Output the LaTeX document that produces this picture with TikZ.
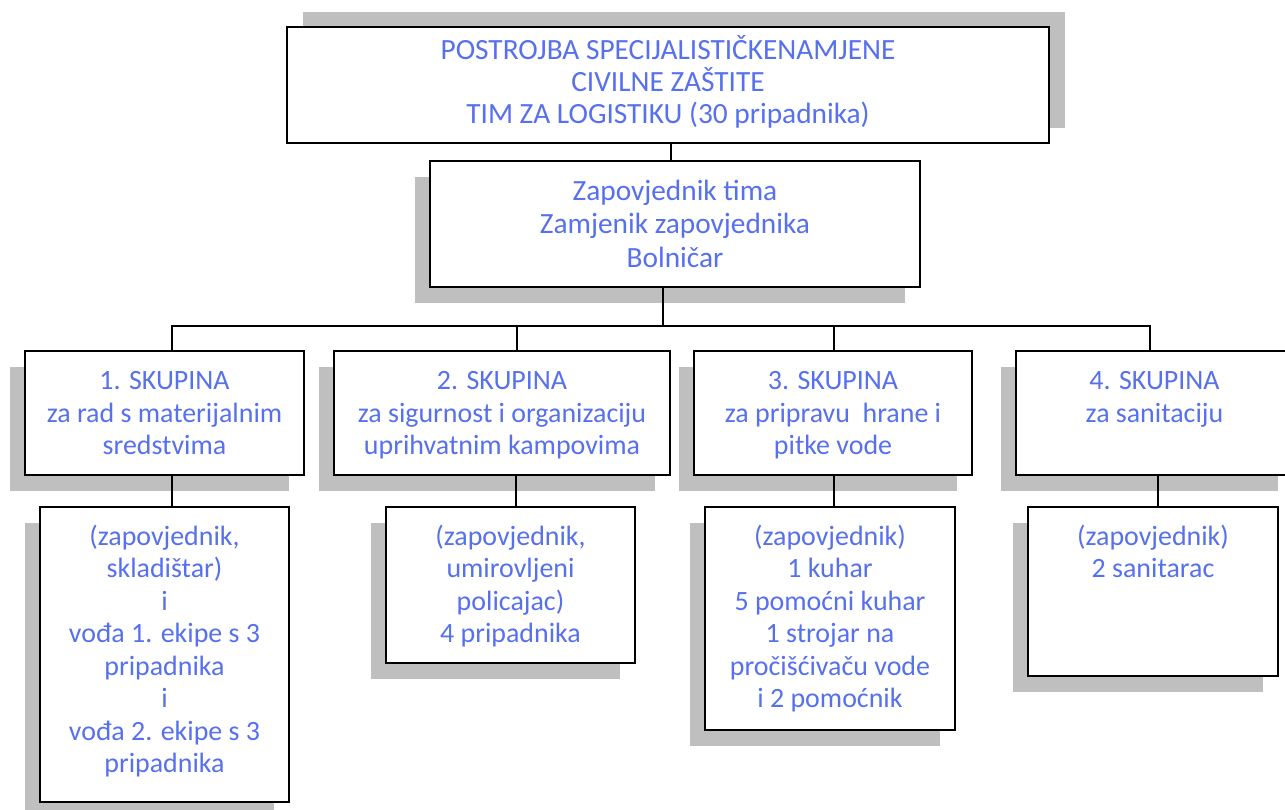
\documentclass[tikz,border=0pt]{standalone}
\usepackage{fontspec}
\setmainfont{Carlito}
\usetikzlibrary{positioning,shadows}
\definecolor{plava}{RGB}{86,112,238}
\definecolor{sjena}{RGB}{191,191,191}
\tikzset{
	okvir/.style={draw, line width=1.1pt, fill=white, inner sep=0pt},
	kutija/.style={okvir, drop shadow={shadow xshift=-8.5pt, shadow yshift=-9pt, fill=sjena, opacity=1}},
	gornja/.style={okvir, drop shadow={shadow xshift=9pt, shadow yshift=8.5pt, fill=sjena, opacity=1}},
	tekst/.style={align=center, text=plava, inner sep=0pt, font=\fontsize{15.9}{18.5}\selectfont, execute at begin node=\strut},
	veza/.style={line width=0.9pt}
}
\begin{document}
\begin{tikzpicture}[x=0.02cm, y=-0.02cm]
	\useasboundingbox (0,0) rectangle (1285,810);
	% zapovjedna razina
	\node[gornja, minimum width=15.24cm, minimum height=2.32cm] (vrh) at (668,85) {};
	\node[tekst, font=\fontsize{16.7}{18.3}\selectfont, below=5pt of vrh.north] (vrh-t) {POSTROJBA SPECIJALISTIČKENAMJENE\\CIVILNE ZAŠTITE\\TIM ZA LOGISTIKU (30 pripadnika)};
	\node[kutija, minimum width=9.8cm, minimum height=2.52cm] (zap) at (675,224) {};
	\node[tekst, font=\fontsize{16.7}{19.2}\selectfont, below=11pt of zap.north] (zap-t) {Zapovjednik tima\\Zamjenik zapovjednika\\Bolničar};
	% skupine
	\node[kutija, minimum width=5.58cm, minimum height=2.48cm] (s1) at (164.5,413) {};
	\node[tekst, below=12pt of s1.north] (s1-t) {1. SKUPINA\\za rad s materijalnim\\sredstvima};
	\node[kutija, minimum width=6.72cm, minimum height=2.48cm] (s2) at (502,413) {};
	\node[tekst, below=12pt of s2.north] (s2-t) {2. SKUPINA\\za sigurnost i organizaciju\\uprihvatnim kampovima};
	\node[kutija, minimum width=5.56cm, minimum height=2.48cm] (s3) at (833,413) {};
	\node[tekst, below=12pt of s3.north] (s3-t) {3. SKUPINA\\za pripravu\ \ hrane i\\pitke vode};
	\node[kutija, minimum width=5.54cm, minimum height=2.48cm] (s4) at (1154.5,413) {};
	\node[tekst, below=12pt of s4.north] (s4-t) {4. SKUPINA\\za sanitaciju};
	% sastav skupina
	\node[kutija, minimum width=4.98cm, minimum height=5.9cm] (d1) at (164.5,654.5) {};
	\node[tekst, below=10.5pt of d1.north] (d1-t) {(zapovjednik,\\skladištar)\\i\\vođa 1. ekipe s 3\\pripadnika\\i\\vođa 2. ekipe s 3\\pripadnika};
	\node[kutija, minimum width=4.98cm, minimum height=3.12cm] (d2) at (510.5,585) {};
	\node[tekst, below=10.5pt of d2.north] (d2-t) {(zapovjednik,\\umirovljeni\\policajac)\\4 pripadnika};
	\node[kutija, minimum width=5cm, minimum height=4.46cm] (d3) at (830,618.5) {};
	\node[tekst, below=10.5pt of d3.north] (d3-t) {(zapovjednik)\\1 kuhar\\5 pomoćni kuhar\\1 strojar na\\pročišćivaču vode\\i 2 pomoćnik};
	\node[kutija, minimum width=5cm, minimum height=3.38cm] (d4) at (1153,591.5) {};
	\node[tekst, below=10.5pt of d4.north] (d4-t) {(zapovjednik)\\2 sanitarac};
	% veze
	\coordinate (sab) at (0,326);
	\draw[veza] (vrh.south -| 671,0) -- (zap.north -| 671,0);
	\draw[veza] (zap.south -| 663,0) -- (sab -| 663,0);
	\draw[veza] (s1.north -| 172,0) -- (sab -| 172,0) -- (sab -| 1150,0) -- (s4.north -| 1150,0);
	\draw[veza] (s2.north -| 517,0) -- (sab -| 517,0);
	\draw[veza] (s3.north -| 834,0) -- (sab -| 834,0);
	\draw[veza] (s1.south -| 172,0) -- (d1.north -| 172,0);
	\draw[veza] (s2.south -| 516,0) -- (d2.north -| 516,0);
	\draw[veza] (s3.south -| 834,0) -- (d3.north -| 834,0);
	\draw[veza] (s4.south -| 1158,0) -- (d4.north -| 1158,0);
\end{tikzpicture}
\end{document}
